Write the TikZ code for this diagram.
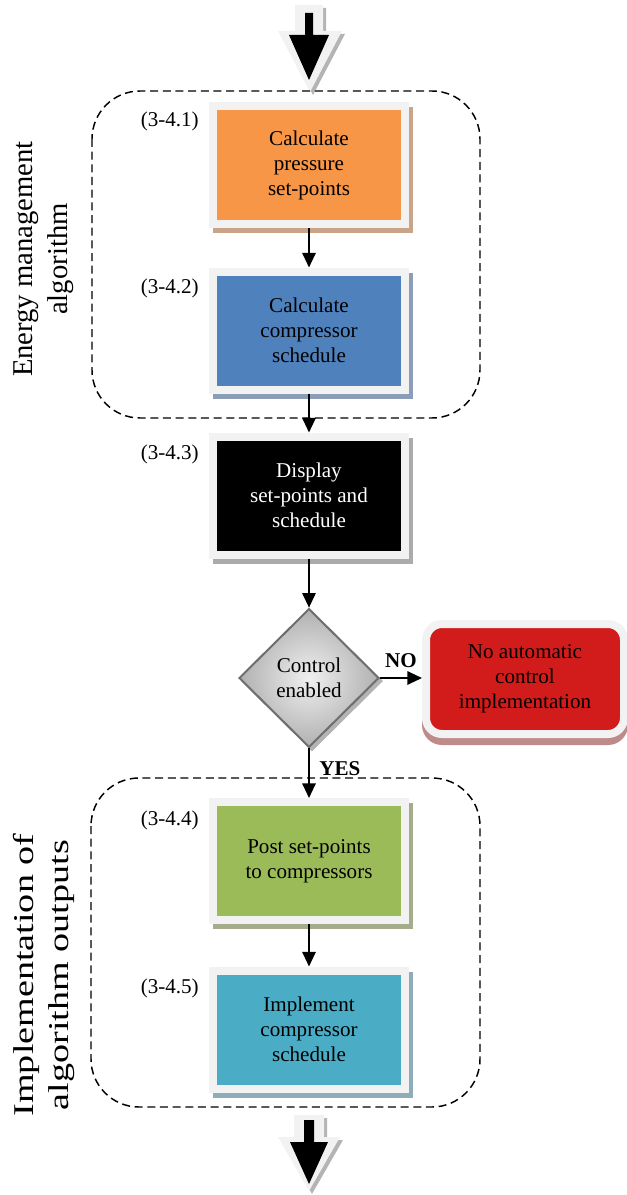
\documentclass[tikz,border=0pt]{standalone}
\usepackage{fontspec}
\usepackage{graphicx}
\setmainfont{Liberation Serif}
\usetikzlibrary{arrows.meta,shapes.geometric,backgrounds,positioning}

\definecolor{framegrey}{HTML}{F2F2F2}
\definecolor{calcorange}{HTML}{F79646}
\definecolor{calcblue}{HTML}{4F81BD}
\definecolor{postgreen}{HTML}{9BBB59}
\definecolor{impteal}{HTML}{4BACC6}
\definecolor{nored}{HTML}{D21C1C}
\definecolor{shorange}{HTML}{C9A489}
\definecolor{shblue}{HTML}{8C9DB8}
\definecolor{shblack}{HTML}{ABABAB}
\definecolor{shgreen}{HTML}{A4AC8C}
\definecolor{shteal}{HTML}{8FADB8}
\definecolor{shred}{HTML}{BE8A8A}
\definecolor{shgrey}{HTML}{B4B4B4}
\definecolor{diaedge}{HTML}{6E6E6E}

\begin{document}
\begin{tikzpicture}[x=0.75pt,y=-0.75pt,
	txt/.style={font=\fontsize{15.8}{18.75}\selectfont},
	box/.style={txt,draw=framegrey,line width=6pt,minimum width=144pt,minimum height=88.5pt,align=center,inner sep=0pt},
	tag/.style={txt,anchor=east,inner sep=0pt},
	arr/.style={line width=1.5pt,-{Triangle[length=11pt,width=10pt]}},
	grp/.style={draw,dash pattern=on 6pt off 3.5pt,line width=1.1pt,rounded corners=36pt},
	side/.style={font=\fontsize{21.5}{26}\selectfont,align=center,rotate=90,inner sep=0pt},
	answer/.style={font=\fontsize{15.8}{18.75}\selectfont\bfseries,inner sep=2pt}]
	\useasboundingbox (0,0) rectangle (626,1195);

	% big arrow in
	\fill[shgrey,shift={(3,3)}] (295,5)--(323,5)--(323,31)--(342,31)--(310,92)--(278,31)--(295,31)--cycle;
	\fill[framegrey] (295,5)--(323,5)--(323,31)--(342,31)--(310,92)--(278,31)--(295,31)--cycle;
	\fill[black] (305,13)--(313,13)--(313,35)--(329,35)--(309,80)--(289,35)--(305,35)--cycle;

	% groups
	\draw[grp] (92,91) rectangle (480,418);
	\draw[grp] (91,778) rectangle (480,1107);
	\node[side] (ema) at (44,259) {Energy management\\algorithm};
	\node[side] (impo) at (44,975) {\scalebox{1.33}[1]{Implementation of}\\\scalebox{1.33}[1]{algorithm outputs}};

	% steps
	\node[box,fill=calcorange] (pres) at (309,165) {Calculate\\pressure\\set-points};
	\node[box,fill=calcblue] (sched) at (309,330.5) {Calculate\\compressor\\schedule};
	\node[box,fill=black,text=white] (disp) at (309,495.5) {Display\\set-points and\\schedule};
	\node[diamond,draw=diaedge,line width=1.5pt,inner color=gray!12,outer color=gray!62,
		minimum width=105pt,minimum height=104pt,inner sep=0pt,txt,align=center] (ctrl) at (309,678) {Control\\enabled};
	\node[box,fill=nored,rounded corners=12pt,minimum width=148.5pt,minimum height=82.5pt] (noauto) at (525,679) {No automatic\\control\\implementation};
	\node[box,fill=postgreen] (post) at (309,861) {Post set-points\\to compressors};
	\node[box,fill=impteal] (impl) at (309,1029.5) {Implement\\compressor\\schedule};

	\node[tag] (t1) at (199,121) {(3-4.1)};
	\node[tag] (t2) at (199,288) {(3-4.2)};
	\node[tag] (t3) at (199,454) {(3-4.3)};
	\node[tag] (t4) at (199,820) {(3-4.4)};
	\node[tag] (t5) at (199,988) {(3-4.5)};

	% shadows
	\begin{scope}[on background layer]
		\foreach \n/\c in {pres/shorange,sched/shblue,disp/shblack,post/shgreen,impl/shteal}
			\fill[\c] ([shift={(4,5)}]\n.north west) rectangle ([shift={(4,5)}]\n.south east);
		\fill[shred,rounded corners=15pt] ([shift={(0,7)}]noauto.north west) rectangle ([shift={(0,7)}]noauto.south east);
		\fill[shgrey] ([shift={(3,3)}]ctrl.north)--([shift={(3,3)}]ctrl.east)--([shift={(3,3)}]ctrl.south)--([shift={(3,3)}]ctrl.west)--cycle;
	\end{scope}

	% connectors
	\draw[arr] (pres.south)--(sched.north);
	\draw[arr] (sched.south)--(disp.north);
	\draw[arr] (disp.south)--(ctrl.north);
	\draw[arr] (ctrl.east)--node[answer,above=5pt] {NO} (ctrl.east-|noauto.west);
	\draw[arr] (ctrl.south)--node[answer,pos=0.4,right=5pt] {YES} (post.north);
	\draw[arr] (post.south)--(impl.north);

	% big arrow out
	\fill[shgrey,shift={(3,3)}] (294,1115)--(324,1115)--(324,1137)--(340,1137)--(309,1191)--(278,1137)--(294,1137)--cycle;
	\fill[framegrey] (294,1115)--(324,1115)--(324,1137)--(340,1137)--(309,1191)--(278,1137)--(294,1137)--cycle;
	\fill[black] (304,1120)--(314,1120)--(314,1142)--(328,1142)--(309,1184)--(290,1142)--(304,1142)--cycle;
\end{tikzpicture}
\end{document}
